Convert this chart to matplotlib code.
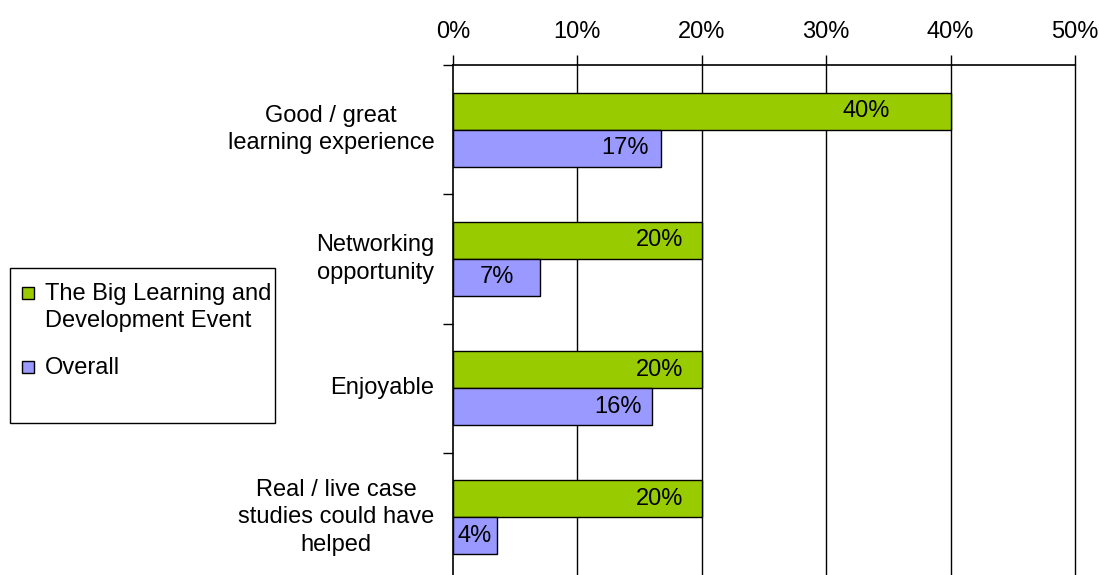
import matplotlib
matplotlib.use("Agg")
import matplotlib.pyplot as plt
from matplotlib.patches import Rectangle

categories = [
    "Good / great\nlearning experience",
    "Networking\nopportunity",
    "Enjoyable",
    "Real / live case\nstudies could have\nhelped",
]
series_names = ["The Big Learning and\nDevelopment Event", "Overall"]
event_values = [40, 20, 20, 20]
overall_values = [16.7, 7.0, 16.0, 3.5]
x_ticks = [0, 10, 20, 30, 40, 50]
x_tick_labels = ["0%", "10%", "20%", "30%", "40%", "50%"]

green = "#99CC00"
blue = "#9999FF"

plt.rcParams["font.family"] = ["Liberation Sans", "DejaVu Sans"]
FS = 17
LS = 1.32

fig = plt.figure(figsize=(10.99, 5.75), dpi=100)
W, H = 1099, 575
left, right, top, bottom = 453, 1075, 65, 582
ax = fig.add_axes([left / W, (H - bottom) / H, (right - left) / W, (bottom - top) / H])

n = len(categories)
bar_h = 37 / 129.25
ys = list(range(n))

ax.barh([y - bar_h / 2 for y in ys], event_values, height=bar_h,
        color=green, edgecolor="black", linewidth=1.0, zorder=3)
ax.barh([y + bar_h / 2 for y in ys], overall_values, height=bar_h,
        color=blue, edgecolor="black", linewidth=1.0, zorder=3)

def label_x(v):
    return v / 2 if v < 10 else v * 0.83

for y, v in zip(ys, event_values):
    ax.text(label_x(v), y - bar_h / 2, f"{v:.0f}%", ha="center", va="center",
            fontsize=FS, zorder=4)
for y, v in zip(ys, overall_values):
    ax.text(label_x(v), y + bar_h / 2, f"{v:.0f}%", ha="center", va="center",
            fontsize=FS, zorder=4)

ax.set_xlim(0, 50)
ax.set_ylim(n - 0.5, -0.5)
ax.xaxis.tick_top()
ax.set_xticks(x_ticks)
ax.set_xticklabels(x_tick_labels, fontsize=FS)
ax.tick_params(axis="x", direction="out", length=7, width=1, pad=8.5, colors="black")
for xv in x_ticks[1:]:
    ax.axvline(xv, color="black", linewidth=1, zorder=0, clip_on=False)

# category boundaries carry the tick marks; names sit at the centres
ax.set_yticks([y - 0.5 for y in range(n + 1)])
ax.set_yticklabels([])
ax.tick_params(axis="y", direction="out", length=7, width=1)
for y, c in zip(ys, categories):
    ax.text(-1.5, y, c, ha="right", va="center", multialignment="center",
            fontsize=FS, linespacing=LS)

for s in ["right", "bottom"]:
    ax.spines[s].set_visible(False)
ax.spines["top"].set_linewidth(1.2)
ax.spines["left"].set_linewidth(1.2)

# legend box with a square key and name per series
fig.patches.append(Rectangle((10 / W, (H - 423) / H), 265 / W, 155 / H,
                             transform=fig.transFigure, fill=False,
                             edgecolor="black", linewidth=1))
for name, col, yc in zip(series_names, [green, blue], [293, 367]):
    fig.patches.append(Rectangle((22 / W, (H - yc - 6) / H), 12 / W, 12 / H,
                                 transform=fig.transFigure, facecolor=col,
                                 edgecolor="black", linewidth=1))
    fig.text(45 / W, (H - yc + 10) / H, name, ha="left", va="top",
             fontsize=FS, linespacing=LS)

fig.savefig("out.png", dpi=100)
